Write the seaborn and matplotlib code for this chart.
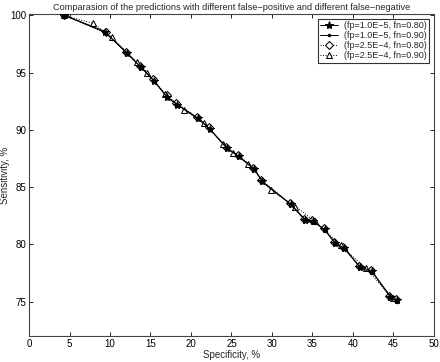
import matplotlib
matplotlib.use("Agg")
import matplotlib.pyplot as plt
import seaborn as sns
import pandas as pd

# ---- data ----
labels = ["(fp=1.0E\u22125, fn=0.80)", "(fp=1.0E\u22125, fn=0.90)",
          "(fp=2.5E\u22124, fn=0.80)", "(fp=2.5E\u22124, fn=0.90)"]

s1_x = [4.3, 9.4, 12.1, 13.8, 15.4, 17.0, 18.3, 20.9, 22.3, 24.4, 25.9, 27.8, 28.8,
        32.3, 34.1, 35.1, 36.5, 37.8, 38.9, 40.9, 42.3, 44.6, 45.4]
s1_y = [100.0, 98.5, 96.7, 95.5, 94.3, 92.9, 92.2, 91.0, 90.1, 88.4, 87.7, 86.6, 85.5,
        83.5, 82.1, 82.0, 81.3, 80.1, 79.7, 78.0, 77.7, 75.4, 75.1]

s2_x = [4.4, 9.3, 12.2, 13.9, 15.5, 17.1, 18.5, 21.0, 22.4, 24.6, 26.0, 27.9, 28.9,
        32.5, 34.3, 35.3, 36.6, 37.9, 39.1, 41.0, 42.5, 44.8, 45.5]
s2_y = [100.0, 98.6, 96.6, 95.4, 94.2, 92.8, 92.1, 90.9, 90.0, 88.3, 87.6, 86.5, 85.4,
        83.4, 82.0, 81.9, 81.2, 80.0, 79.5, 77.9, 77.5, 75.3, 75.0]

s3_x = [4.3, 9.5, 12.0, 13.7, 15.3, 17.0, 18.2, 20.8, 22.2, 24.3, 25.8, 27.7, 28.7,
        32.2, 34.0, 35.0, 36.4, 37.7, 38.8, 40.8, 42.2, 44.5, 45.3]
s3_y = [100.0, 98.5, 96.8, 95.6, 94.4, 93.0, 92.3, 91.1, 90.2, 88.5, 87.8, 86.7, 85.6,
        83.6, 82.2, 82.1, 81.4, 80.2, 79.8, 78.1, 77.8, 75.5, 75.2]

s4_x = [4.3, 7.9, 10.2, 13.3, 14.6, 16.8, 19.2, 21.6, 23.9, 25.2, 27.1, 29.9, 32.9,
        35.3, 38.5, 41.6, 44.9]
s4_y = [100.0, 99.3, 98.1, 95.9, 95.0, 93.1, 91.7, 90.6, 88.8, 88.0, 87.0, 84.7, 83.3,
        82.0, 79.9, 77.9, 75.3]

xticks = [0, 5, 10, 15, 20, 25, 30, 35, 40, 45, 50]
yticks = [75, 80, 85, 90, 95, 100]

sns.set_theme(style="ticks")
plt.rcParams["font.family"] = ["Liberation Sans", "DejaVu Sans"]

fig = plt.figure(figsize=(4.4, 3.62), dpi=100)
ax = fig.add_axes([0.066, 0.072, 0.920, 0.889])

styles = [
    dict(marker="*", linestyle="-", markersize=6, markerfacecolor="black", markeredgecolor="black", zorder=5),
    dict(marker=".", linestyle="-", markersize=3.5, markerfacecolor="black", markeredgecolor="black", zorder=6),
    dict(marker="D", linestyle=":", markersize=4, markerfacecolor="white", markeredgecolor="black", zorder=3),
    dict(marker="^", linestyle=":", markersize=4.5, markerfacecolor="white", markeredgecolor="black", zorder=4),
]
series = [(s1_x, s1_y), (s2_x, s2_y), (s3_x, s3_y), (s4_x, s4_y)]

for (xs, ys), lab, st in zip(series, labels, styles):
    df = pd.DataFrame({"x": xs, "y": ys})
    sns.lineplot(data=df, x="x", y="y", ax=ax, sort=False, estimator=None,
                 color="black", linewidth=0.7, label=lab, **st)

ax.set_xlim(0, 50)
ax.set_ylim(72, 100.1)
ax.set_xticks(xticks)
ax.set_yticks(yticks)
ax.tick_params(direction="in", top=True, right=True, labelsize=7, length=3,
               width=0.6, colors="black", pad=2)
for sp in ax.spines.values():
    sp.set_linewidth(0.8)
    sp.set_color("#444444")

ax.set_xlabel("Specificity, %", fontsize=7, labelpad=1)
ax.set_ylabel("Sensitivity, %", fontsize=7, labelpad=0)
ax.set_title("Comparasion of the predictions with different false\u2212positive and different false\u2212negative",
             fontsize=6.6, pad=3)

leg = ax.legend(loc="upper right", fontsize=6.5, frameon=True, fancybox=False,
                edgecolor="black", handlelength=2.0, handletextpad=0.6,
                borderpad=0.3, labelspacing=0.1, borderaxespad=0.5)
leg.get_frame().set_linewidth(0.8)

fig.savefig("out.png", dpi=100)
